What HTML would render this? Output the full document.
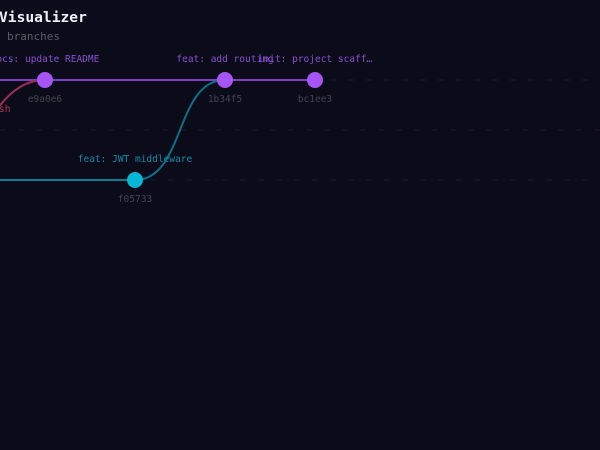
<!DOCTYPE html>
<html><head><meta charset="utf-8"><style>
html,body{margin:0;padding:0;background:#0b0b1a;}
svg{display:block;}
text{font-family:"DejaVu Sans Mono","Liberation Mono",monospace;}
</style></head><body>
<svg width="600" height="450" viewBox="0 0 600 450" xmlns="http://www.w3.org/2000/svg">
<rect width="600" height="450" fill="#0b0b1a"/>
<text x="-1" y="22" font-size="14.6" font-weight="bold" fill="#eef0f6">Visualizer</text>
<text x="-6.2" y="40" font-size="11" fill="#5d5d68">3 branches</text>
<line x1="330" y1="80" x2="600" y2="80" stroke="#1e1838" stroke-width="1" stroke-dasharray="6,12"/>
<line x1="0" y1="130" x2="600" y2="130" stroke="#221628" stroke-width="1" stroke-dasharray="6,12"/>
<line x1="150" y1="180" x2="600" y2="180" stroke="#112030" stroke-width="1" stroke-dasharray="6,12"/>
<line x1="0" y1="80" x2="315" y2="80" stroke="#7d3fc0" stroke-width="2"/>
<path d="M-5,112 C12,88 28,80 45,80" fill="none" stroke="#9a2f55" stroke-width="2"/>
<line x1="0" y1="180" x2="135" y2="180" stroke="#0e7a94" stroke-width="2"/>
<path d="M135,180 C185,180 175,80 225,80" fill="none" stroke="#0e6e86" stroke-width="2"/>
<circle cx="45" cy="80" r="8" fill="#a855f7"/>
<circle cx="225" cy="80" r="8" fill="#a855f7"/>
<circle cx="315" cy="80" r="8" fill="#a855f7"/>
<circle cx="135" cy="180" r="8" fill="#06b6d4"/>
<text x="45" y="62" font-size="9.5" fill="#8a4fd0" text-anchor="middle">docs: update README</text>
<text x="225" y="62" font-size="9.5" fill="#8a4fd0" text-anchor="middle">feat: add routing</text>
<text x="315" y="62" font-size="9.5" fill="#8a4fd0" text-anchor="middle">init: project scaff…</text>
<text x="135" y="162" font-size="9.5" fill="#168aa6" text-anchor="middle">feat: JWT middleware</text>
<text x="45" y="102" font-size="9.5" fill="#45454f" text-anchor="middle">e9a0e6</text>
<text x="225" y="102" font-size="9.5" fill="#45454f" text-anchor="middle">1b34f5</text>
<text x="315" y="102" font-size="9.5" fill="#45454f" text-anchor="middle">bc1ee3</text>
<text x="135" y="202" font-size="9.5" fill="#45454f" text-anchor="middle">f05733</text>
<text x="-1" y="112" font-size="9.5" fill="#b83560">sh</text>
</svg>
</body></html>
